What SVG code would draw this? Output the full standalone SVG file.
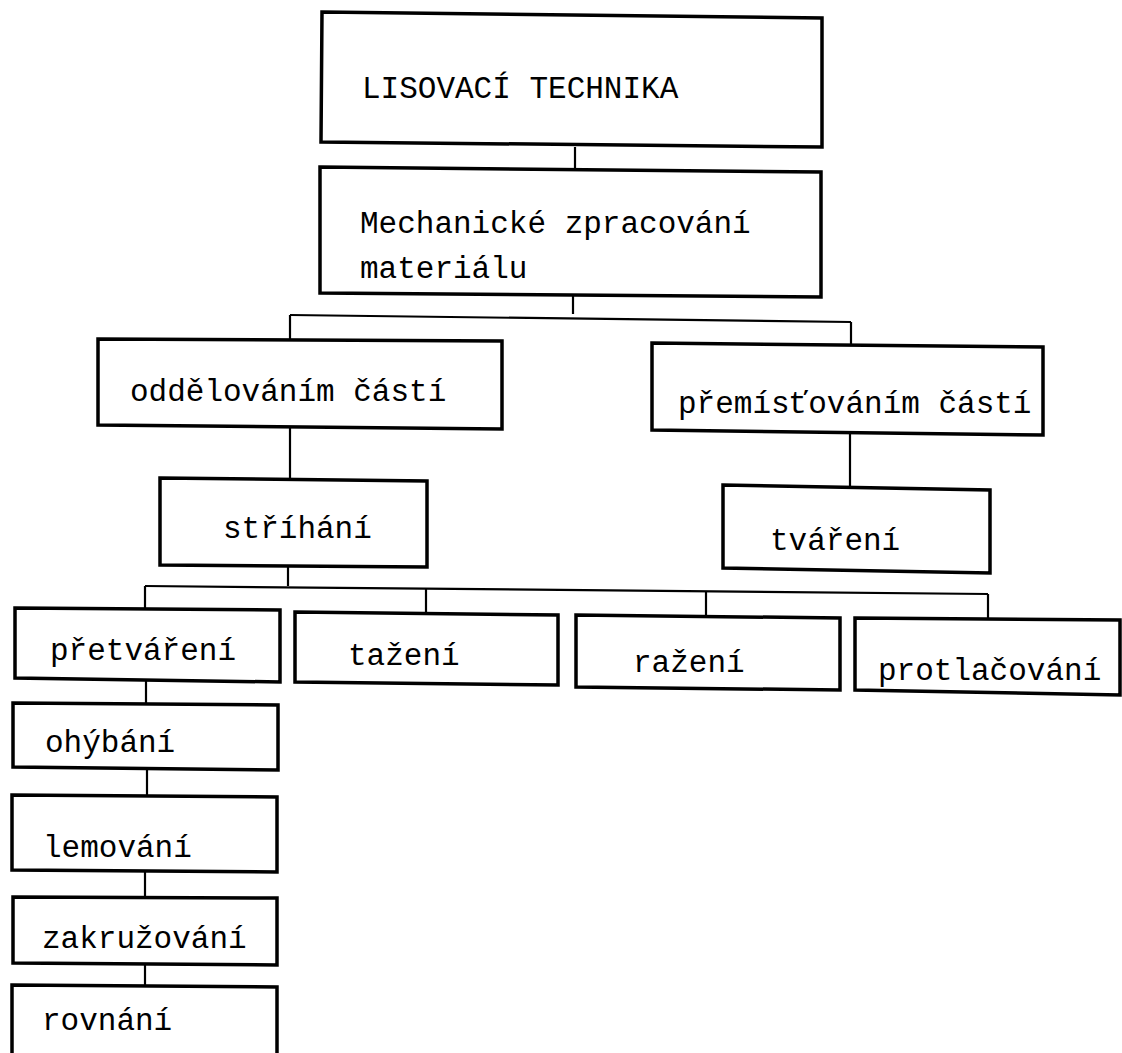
<svg xmlns="http://www.w3.org/2000/svg" width="1122" height="1053" viewBox="0 0 1122 1053">
<style>
.box{fill:#fff;stroke:#000;stroke-width:3.5;stroke-linejoin:miter}
.con{fill:none;stroke:#000;stroke-width:2.2}
text{font-family:"Liberation Mono","Courier New",monospace;font-size:31px;fill:#000}
</style>
<rect width="1122" height="1053" fill="#fff"/>
<g id="connectors">
<path class="con" d="M575,147 V168"/>
<path class="con" d="M573,296 V314"/>
<path class="con" d="M290,315 L851,322"/>
<path class="con" d="M290,315 V339"/>
<path class="con" d="M851,322 V346"/>
<path class="con" d="M290,425 V478"/>
<path class="con" d="M850,434 V487"/>
<path class="con" d="M288,566 V586"/>
<path class="con" d="M145,586 L988,594"/>
<path class="con" d="M145,586 V608"/>
<path class="con" d="M426,588.7 V613"/>
<path class="con" d="M706,591.5 V616"/>
<path class="con" d="M988,594 V619"/>
<path class="con" d="M146,680 V704"/>
<path class="con" d="M147,768 V796"/>
<path class="con" d="M145,871 V897"/>
<path class="con" d="M145,964 V986"/>
</g>
<g id="n-lisovaci">
<polygon class="box" points="322,12 822,18 822,147 321,142"/>
<text x="362" y="98">LISOVACÍ TECHNIKA</text>
</g>
<g id="n-mechanicke">
<polygon class="box" points="320,167 821,172 821,297 320,293"/>
<text x="360" y="233">Mechanické zpracování</text>
<text x="360" y="278">materiálu</text>
</g>
<g id="n-oddelovanim">
<polygon class="box" points="98,339 502,341 502,429 98,425"/>
<text x="130" y="401">oddělováním částí</text>
</g>
<g id="n-premistovanim">
<polygon class="box" points="652,343 1043,347 1043,435 652,430"/>
<text x="678" y="413">přemísťováním částí</text>
</g>
<g id="n-strihani">
<polygon class="box" points="160,478 427,481 427,567 160,565"/>
<text x="223" y="538">stříhání</text>
</g>
<g id="n-tvareni">
<polygon class="box" points="723,485 990,490 990,573 723,568"/>
<text x="770" y="550">tváření</text>
</g>
<g id="n-pretvareni">
<polygon class="box" points="15,608 280,610 280,682 15,678"/>
<text x="50" y="660">přetváření</text>
</g>
<g id="n-tazeni">
<polygon class="box" points="295,612 558,615 558,685 295,682"/>
<text x="348" y="665">tažení</text>
</g>
<g id="n-razeni">
<polygon class="box" points="576,615 840,618 840,690 576,687"/>
<text x="633" y="672">ražení</text>
</g>
<g id="n-protlacovani">
<polygon class="box" points="855,618 1120,620 1120,695 855,690"/>
<text x="878" y="680">protlačování</text>
</g>
<g id="n-ohybani">
<polygon class="box" points="13,703 278,705 278,770 13,767"/>
<text x="45" y="752">ohýbání</text>
</g>
<g id="n-lemovani">
<polygon class="box" points="12,795 277,797 277,872 12,870"/>
<text x="43" y="857">lemování</text>
</g>
<g id="n-zakruzovani">
<polygon class="box" points="13,897 277,898 277,965 13,963"/>
<text x="42" y="948">zakružování</text>
</g>
<g id="n-rovnani">
<polygon class="box" points="12,985 277,987 277,1070 12,1070"/>
<text x="42" y="1030">rovnání</text>
</g>
</svg>
